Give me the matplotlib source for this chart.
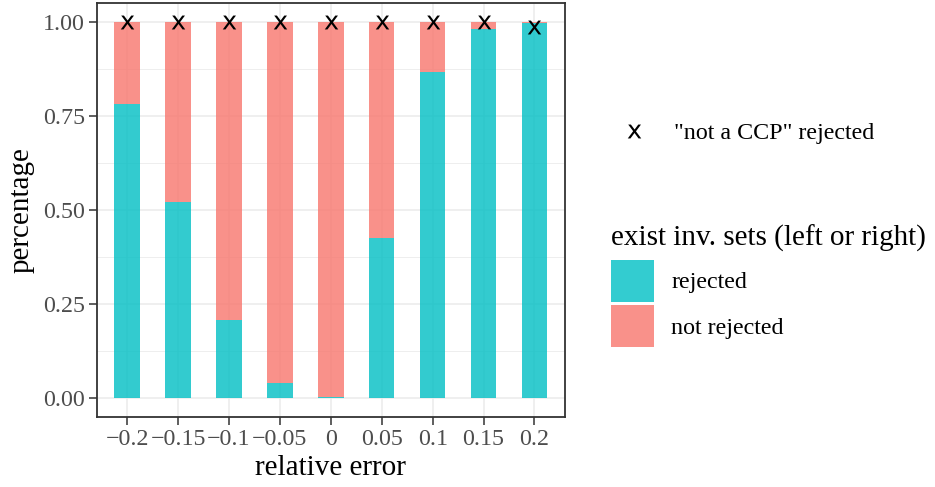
import matplotlib
matplotlib.use("Agg")
import matplotlib.pyplot as plt
from matplotlib.patches import Patch
from matplotlib.lines import Line2D

# relative error levels (discrete x axis)
rel_error = ["\u22120.2", "\u22120.15", "\u22120.1", "\u22120.05", "0", "0.05", "0.1", "0.15", "0.2"]
# share of runs where invariant sets were rejected
rejected = [0.783, 0.523, 0.207, 0.041, 0.003, 0.427, 0.868, 0.983, 0.998]
not_rejected = [1 - v for v in rejected]
# share of runs where "not a CCP" was rejected
ccp_rejected = [1.0, 1.0, 1.0, 1.0, 1.0, 1.0, 1.0, 1.0, 0.987]

teal = "#00BFC4"
salmon = "#F8766D"
teal_key = "#33CCD0"    # teal at 80% opacity over white
salmon_key = "#F9918A"  # salmon at 80% opacity over white
serif = "Liberation Serif"

fig = plt.figure(figsize=(9.35, 4.87), dpi=100)
ax = fig.add_axes([0.1034, 0.1437, 0.5009, 0.8495])

x = list(range(len(rel_error)))
ax.bar(x, rejected, width=0.5, color=teal, alpha=0.8, linewidth=0, zorder=2)
ax.bar(x, not_rejected, width=0.5, bottom=rejected, color=salmon, alpha=0.8,
       linewidth=0, zorder=2)
ax.plot(x, ccp_rejected, linestyle="none", marker=r"$\mathsf{x}$", markersize=10,
        markeredgewidth=0, color="black", zorder=3)

ax.set_xlim(-0.6, len(rel_error) - 1 + 0.6)
ax.set_ylim(-0.05, 1.05)
ax.set_xticks(x)
ax.set_xticklabels(rel_error)
ax.set_yticks([0, 0.25, 0.5, 0.75, 1.0])
ax.set_yticklabels(["0.00", "0.25", "0.50", "0.75", "1.00"])
ax.set_yticks([0.125, 0.375, 0.625, 0.875], minor=True)

ax.grid(True, which="major", color="#EBEBEB", linewidth=1.1, zorder=0)
ax.grid(True, which="minor", axis="y", color="#EBEBEB", linewidth=0.6, zorder=0)
ax.set_axisbelow(True)

for s in ax.spines.values():
    s.set_color("#333333")
    s.set_linewidth(1.3)

ax.tick_params(which="major", length=5.5, width=1.1, color="#333333",
               labelcolor="#4D4D4D", labelsize=17.3, pad=3)
ax.tick_params(which="minor", length=0)
for lab in ax.get_xticklabels() + ax.get_yticklabels():
    lab.set_family(serif)

ax.set_xlabel("relative error", fontsize=21, family=serif, labelpad=4)
ax.set_ylabel("percentage", fontsize=21, family=serif, labelpad=6)

# legend for the "x" markers
h1 = [Line2D([], [], linestyle="none", marker=r"$\mathsf{x}$", markersize=10,
             markeredgewidth=0, color="black")]
leg1 = fig.legend(h1, ['"not a CCP" rejected'], loc="center left",
                  bbox_to_anchor=(612 / 935, 1 - 133 / 487), frameon=False,
                  prop={"family": serif, "size": 17.3}, handlelength=1.8,
                  handletextpad=0.8, borderaxespad=0, borderpad=0)

# legend for the stacked bar fill
h2 = [Patch(facecolor=teal_key, linewidth=0),
      Patch(facecolor=salmon_key, linewidth=0)]
leg2 = fig.legend(h2, ["rejected", "not rejected"], loc="upper left",
                  bbox_to_anchor=(611 / 935, 1 - 225 / 487), frameon=False,
                  title="exist inv. sets (left or right)",
                  title_fontproperties={"family": serif, "size": 21},
                  prop={"family": serif, "size": 17.3}, handlelength=1.8,
                  handleheight=2.3, handletextpad=0.7, labelspacing=0.15,
                  borderaxespad=0, borderpad=0)
leg2._legend_box.align = "left"
leg2._legend_box.sep = 5.5

fig.savefig("out.png", dpi=100)
